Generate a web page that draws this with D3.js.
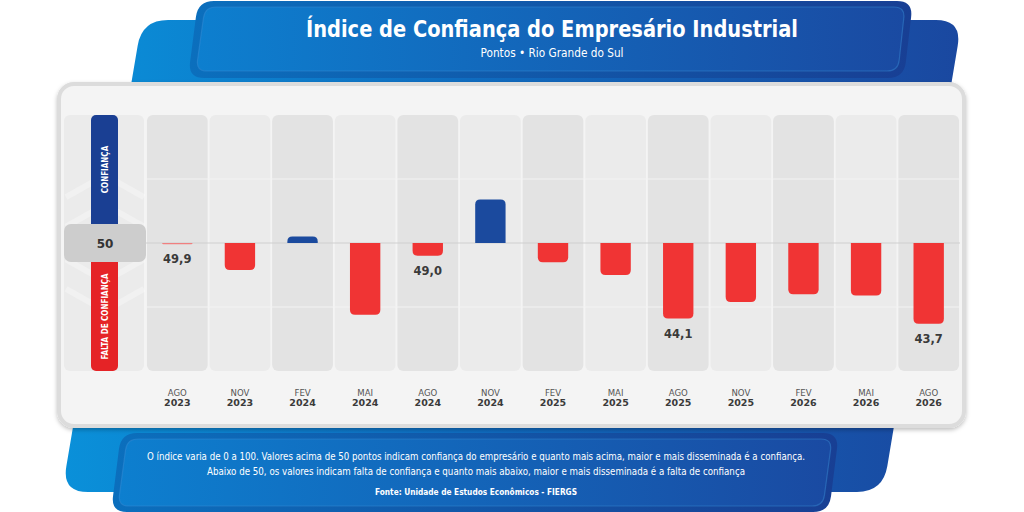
<!DOCTYPE html>
<html>
<head>
<meta charset="utf-8">
<script src="https://cdn.jsdelivr.net/npm/d3@7"></script>
<style>
  body { margin: 0; background: #fff; }
  svg { display: block; }
</style>
</head>
<body>
<script>
// Índice de Confiança do Empresário Industrial - RS
const months = ["AGO","NOV","FEV","MAI","AGO","NOV","FEV","MAI","AGO","NOV","FEV","MAI","AGO"]
const years  = ["2023","2023","2024","2024","2024","2024","2025","2025","2025","2025","2026","2026","2026"]
const values = [49.9, 47.9, 50.5, 44.4, 49.0, 53.4, 48.5, 47.5, 44.1, 45.4, 46.0, 45.9, 43.7]
// which bars get a value label
const showLabel = [true,false,false,false,true,false,false,false,true,false,false,false,true]
const gridValues = [45, 50, 55]
const periods = months.map((m,i) => m + " " + years[i])

const W = 1024, H = 512
const svg = d3.select("body").append("svg").attr("width", W).attr("height", H)
const defs = svg.append("defs")

const grad = (id, stops) => {
    const g = defs.append("linearGradient").attr("id", id)
        .attr("x1", "0%").attr("x2", "100%").attr("y1", "0%").attr("y2", "0%")
    stops.forEach(s => g.append("stop").attr("offset", s[0]).attr("stop-color", s[1]))
}
grad("backGrad", [["0%", "#0a90d9"], ["45%", "#0f6cc0"], ["100%", "#1a48a0"]])
grad("titleGrad", [["0%", "#0d7fcf"], ["100%", "#1a4aa2"]])
grad("titleOuter", [["0%", "#0b6fbd"], ["100%", "#183f94"]])

const shadow = defs.append("filter").attr("id", "shadow")
    .attr("x", "-5%").attr("y", "-5%").attr("width", "110%").attr("height", "115%")
shadow.append("feDropShadow").attr("dx", 0).attr("dy", 2).attr("stdDeviation", 2)
    .attr("flood-color", "#000").attr("flood-opacity", 0.25)

// rounded polygon path helper
const roundedPoly = (pts, r) => {
    let d = ""
    const n = pts.length
    for (let i = 0; i < n; i++) {
        const p0 = pts[(i - 1 + n) % n], p1 = pts[i], p2 = pts[(i + 1) % n]
        const d1 = Math.hypot(p0[0]-p1[0], p0[1]-p1[1]), d2 = Math.hypot(p2[0]-p1[0], p2[1]-p1[1])
        const a = [p1[0] + (p0[0]-p1[0]) * r / d1, p1[1] + (p0[1]-p1[1]) * r / d1]
        const b = [p1[0] + (p2[0]-p1[0]) * r / d2, p1[1] + (p2[1]-p1[1]) * r / d2]
        d += (i === 0 ? "M" : "L") + a[0] + "," + a[1] + "Q" + p1[0] + "," + p1[1] + " " + b[0] + "," + b[1]
    }
    return d + "Z"
}

// back slanted panel
svg.append("path")
    .attr("d", roundedPoly([[142,20],[962,20],[883,492],[62,492]], 26))
    .attr("fill", "url(#backGrad)")

// title box
svg.append("path")
    .attr("d", roundedPoly([[198,1],[913,1],[904,78],[188,78]], 16))
    .attr("fill", "url(#titleOuter)")
svg.append("path")
    .attr("d", roundedPoly([[205,7],[905,7],[898,71],[196,71]], 11))
    .attr("fill", "url(#titleGrad)")
    .attr("stroke", "#3a8fd8").attr("stroke-opacity", 0.45).attr("stroke-width", 1.2)

svg.append("text")
    .attr("x", 552).attr("y", 37)
    .attr("text-anchor", "middle")
    .attr("font-family", "'DejaVu Sans Condensed', 'DejaVu Sans'")
    .attr("font-weight", "bold")
    .attr("font-size", 23)
    .attr("fill", "#fff")
    .attr("textLength", 492).attr("lengthAdjust", "spacingAndGlyphs")
    .text("Índice de Confiança do Empresário Industrial")

svg.append("text")
    .attr("x", 552).attr("y", 57)
    .attr("text-anchor", "middle")
    .attr("font-family", "'DejaVu Sans Condensed', 'DejaVu Sans'")
    .attr("font-size", 12)
    .attr("fill", "#fff")
    .attr("textLength", 143).attr("lengthAdjust", "spacingAndGlyphs")
    .text("Pontos • Rio Grande do Sul")

// footer box
svg.append("path")
    .attr("d", roundedPoly([[121,433],[839,433],[829,512],[111,512]], 16))
    .attr("fill", "url(#titleOuter)")
svg.append("path")
    .attr("d", roundedPoly([[127,439],[832,439],[823,506],[118,506]], 11))
    .attr("fill", "url(#titleGrad)")
    .attr("stroke", "#3a8fd8").attr("stroke-opacity", 0.45).attr("stroke-width", 1.2)

const footLines = [
    {t: "O índice varia de 0 a 100. Valores acima de 50 pontos indicam confiança do empresário e quanto mais acima, maior e mais disseminada é a confiança.", y: 460, len: 658, bold: false},
    {t: "Abaixo de 50, os valores indicam falta de confiança e quanto mais abaixo, maior e mais disseminada é a falta de confiança", y: 475, len: 538, bold: false},
    {t: "Fonte: Unidade de Estudos Econômicos - FIERGS", y: 495, len: 202, bold: true}
]
svg.selectAll(".foot").data(footLines).join("text")
    .attr("class", "foot")
    .attr("x", 476).attr("y", d => d.y)
    .attr("text-anchor", "middle")
    .attr("font-family", "'DejaVu Sans Condensed', 'DejaVu Sans'")
    .attr("font-size", d => d.bold ? 9.5 : 11)
    .attr("font-weight", d => d.bold ? "bold" : "normal")
    .attr("fill", "#fff")
    .attr("textLength", d => d.len).attr("lengthAdjust", "spacingAndGlyphs")
    .text(d => d.t)

// chart card
svg.append("rect")
    .attr("x", 59).attr("y", 84).attr("width", 905).attr("height", 342)
    .attr("rx", 15)
    .attr("fill", "#f4f4f4")
    .attr("stroke", "#dcdcdc").attr("stroke-width", 4)
    .attr("filter", "url(#shadow)")

// scales
const plotTop = 115, plotBottom = 371
const x = d3.scaleBand().domain(periods).range([146, 960]).paddingInner(0.03).paddingOuter(0.015)
const y = d3.scaleLinear().domain([40, 60]).range([plotBottom, plotTop])

// column backgrounds
svg.selectAll(".col").data(periods).join("rect")
    .attr("class", "col")
    .attr("x", d => x(d)).attr("y", plotTop)
    .attr("width", x.bandwidth()).attr("height", plotBottom - plotTop)
    .attr("rx", 6)
    .attr("fill", (d,i) => i % 2 === 0 ? "#e3e3e3" : "#ebebeb")

// left label column
svg.append("rect")
    .attr("x", 64).attr("y", plotTop).attr("width", 80).attr("height", plotBottom - plotTop)
    .attr("rx", 6).attr("fill", "#ebebeb")

// faint chevrons in label column
const chev = svg.append("g").attr("fill", "none").attr("stroke", "#fff").attr("stroke-opacity", 0.3).attr("stroke-width", 6)
;[y(55.3), y(53.0), y(50.8)].forEach(cy => {
    chev.append("path").attr("d", `M66,${cy + 22} L105,${cy} L144,${cy + 22}`)
})
;[y(49.2), y(47.0), y(44.7)].forEach(cy => {
    chev.append("path").attr("d", `M66,${cy - 22} L105,${cy} L144,${cy - 22}`)
})

svg.append("rect")
    .attr("x", 91).attr("y", plotTop).attr("width", 27).attr("height", y(50) - plotTop)
    .attr("rx", 5).attr("fill", "#1a3f93")
svg.append("rect")
    .attr("x", 91).attr("y", y(50)).attr("width", 27).attr("height", plotBottom - y(50))
    .attr("rx", 5).attr("fill", "#e52326")

svg.append("text")
    .attr("transform", `translate(108, ${y(55.74)}) rotate(-90)`)
    .attr("text-anchor", "middle")
    .attr("font-family", "'DejaVu Sans Condensed', 'DejaVu Sans'")
    .attr("font-weight", "bold").attr("font-size", 8).attr("fill", "#fff")
    .text("CONFIANÇA")
svg.append("text")
    .attr("transform", `translate(108, ${y(44.26)}) rotate(-90)`)
    .attr("text-anchor", "middle")
    .attr("font-family", "'DejaVu Sans Condensed', 'DejaVu Sans'")
    .attr("font-weight", "bold").attr("font-size", 8).attr("fill", "#fff")
    .text("FALTA DE CONFIANÇA")

// gridlines
svg.selectAll(".grid").data(gridValues).join("line")
    .attr("class", "grid")
    .attr("x1", 146).attr("x2", 960)
    .attr("y1", d => y(d)).attr("y2", d => y(d))
    .attr("stroke", d => d === 50 ? "#cfcfcf" : "#f3f3f3")
    .attr("stroke-width", d => d === 50 ? 1.2 : 1)

// 50 box
svg.append("rect")
    .attr("x", 64).attr("y", y(50) - 19).attr("width", 82).attr("height", 38)
    .attr("rx", 7).attr("fill", "#cdcdcd")
svg.append("text")
    .attr("x", 105).attr("y", y(50) + 4.5)
    .attr("text-anchor", "middle")
    .attr("font-family", "'DejaVu Sans'")
    .attr("font-weight", "bold").attr("font-size", 12).attr("fill", "#333")
    .text("50")

// bars
const barW = x.bandwidth() * 0.5
const barPath = (d, i) => {
    const cx = x(periods[i]) + x.bandwidth() / 2
    const x0 = cx - barW / 2, x1 = cx + barW / 2
    const y0 = y(50), y1 = y(d)
    const h = Math.abs(y1 - y0)
    const r = Math.min(5, h)
    if (d < 50) {
        return `M${x0},${y0} L${x1},${y0} L${x1},${y1 - r} Q${x1},${y1} ${x1 - r},${y1} L${x0 + r},${y1} Q${x0},${y1} ${x0},${y1 - r} Z`
    }
    return `M${x0},${y0} L${x0},${y1 + r} Q${x0},${y1} ${x0 + r},${y1} L${x1 - r},${y1} Q${x1},${y1} ${x1},${y1 + r} L${x1},${y0} Z`
}
svg.selectAll(".bar").data(values).join("path")
    .attr("class", "bar")
    .attr("d", barPath)
    .attr("fill", d => d >= 50 ? "#1b4a9e" : (50 - d < 0.3 ? "#f08080" : "#f03434"))

// value labels
svg.selectAll(".val").data(values.map((v,i) => ({v, i})).filter(d => showLabel[d.i])).join("text")
    .attr("class", "val")
    .attr("x", d => x(periods[d.i]) + x.bandwidth() / 2)
    .attr("y", d => y(d.v) + 19)
    .attr("text-anchor", "middle")
    .attr("font-family", "'DejaVu Sans'")
    .attr("font-weight", "bold").attr("font-size", 11.5).attr("fill", "#3a3a3a")
    .text(d => d3.format(".1f")(d.v).replace(".", ","))

// x labels
const xl = svg.selectAll(".xl").data(periods).join("g")
    .attr("class", "xl")
    .attr("transform", d => `translate(${x(d) + x.bandwidth() / 2}, 0)`)
xl.append("text")
    .attr("y", 396).attr("text-anchor", "middle")
    .attr("font-family", "'DejaVu Sans Condensed', 'DejaVu Sans'")
    .attr("font-size", 9.5).attr("fill", "#555")
    .text((d,i) => months[i])
xl.append("text")
    .attr("y", 405.5).attr("text-anchor", "middle")
    .attr("font-family", "'DejaVu Sans'")
    .attr("font-weight", "bold")
    .attr("font-size", 9.5).attr("fill", "#3a3a3a")
    .text((d,i) => years[i])
</script>
</body>
</html>
